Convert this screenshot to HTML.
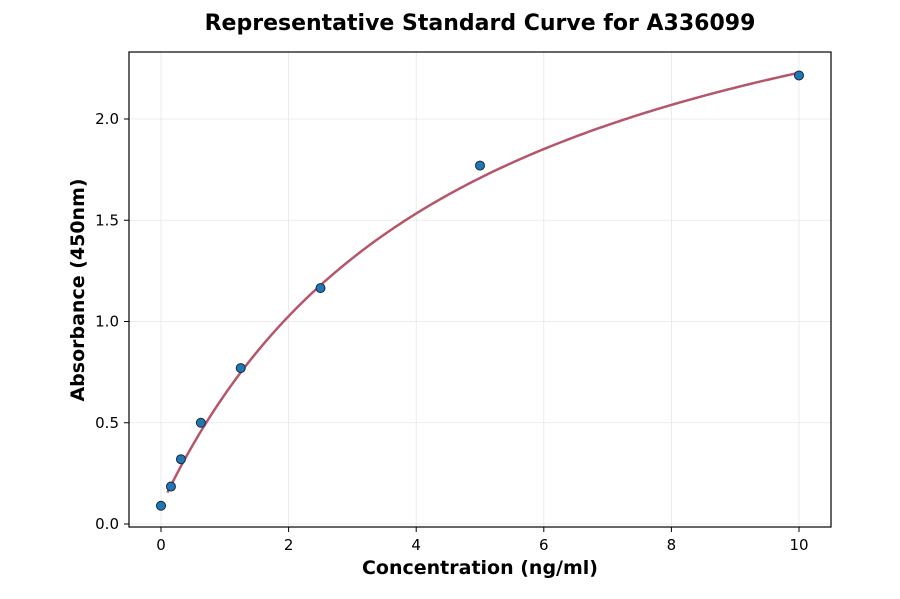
<!DOCTYPE html>
<html><head><meta charset="utf-8"><style>
body{margin:0;background:#fff;}
svg text{font-family:"DejaVu Sans","Liberation Sans",sans-serif;}
</style></head><body>
<svg id="chart" width="900" height="594" xmlns="http://www.w3.org/2000/svg">
<rect width="900" height="594" fill="#fff"/>
<text x="480" y="30" text-anchor="middle" font-size="22" font-weight="bold">Representative Standard Curve for A336099</text>
<g id="grid"></g>
<g id="ticks"></g>
<g id="curve"></g>
<g id="points"></g>
<rect x="129" y="52" width="702" height="475" fill="none" stroke="#000" stroke-width="1.2"/>
<text x="480" y="574" text-anchor="middle" font-size="19" font-weight="bold">Concentration (ng/ml)</text>
<text transform="translate(84,290) rotate(-90)" text-anchor="middle" font-size="19" font-weight="bold">Absorbance (450nm)</text>
</svg>
<script>
const concentrations=[0,0.156,0.3125,0.625,1.25,2.5,5,10];
const absorbances=[0.09,0.185,0.32,0.5,0.77,1.165,1.77,2.215];
const xTicks=[0,2,4,6,8,10];
const yTicks=[0.0,0.5,1.0,1.5,2.0];
const fitA=0.09, fitB=3.15, fitK=4.73;
const NS="http://www.w3.org/2000/svg";
const xs=v=>161+v*63.8;
const ys=v=>524-v*202.5;
function mk(tag,attrs,parent){const e=document.createElementNS(NS,tag);for(const k in attrs)e.setAttribute(k,attrs[k]);document.getElementById(parent).appendChild(e);return e;}
xTicks.forEach(t=>{
  const g=mk('line',{x1:xs(t),x2:xs(t),y1:52,y2:527,stroke:'#e6e6e6','stroke-width':0.8},'grid');
  
  
  const tk=mk('line',{x1:xs(t),x2:xs(t),y1:527,y2:532,stroke:'#000'},'ticks');
  
  
  const l=mk('text',{x:xs(t),y:550,'text-anchor':'middle','font-size':15},'ticks');
  l.textContent=t;
  
  
});
yTicks.forEach(t=>{
  const g=mk('line',{x1:129,x2:831,y1:ys(t),y2:ys(t),stroke:'#e6e6e6','stroke-width':0.8},'grid');
  
  
  const tk=mk('line',{x1:124,x2:129,y1:ys(t),y2:ys(t),stroke:'#000'},'ticks');
  
  
  const l=mk('text',{x:119,y:ys(t)+5,'text-anchor':'end','font-size':15},'ticks');
  l.textContent=t.toFixed(1);
  
  
});
let d='';
for(let i=0;i<=200;i++){const x=0.1+(10-0.1)*i/200;const y=fitA+fitB*x/(fitK+x);d+=(i?'L':'M')+xs(x).toFixed(2)+','+ys(y).toFixed(2);}
const c=mk('path',{d:d,fill:'none',stroke:'#b5566b','stroke-width':2.5},'curve');


concentrations.forEach((x,i)=>{
  const p=mk('circle',{cx:xs(x),cy:ys(absorbances[i]),r:4.5,fill:'#1f77b4',stroke:'#1a2a3a','stroke-width':1},'points');
  
  
});
</script>
</body></html>
